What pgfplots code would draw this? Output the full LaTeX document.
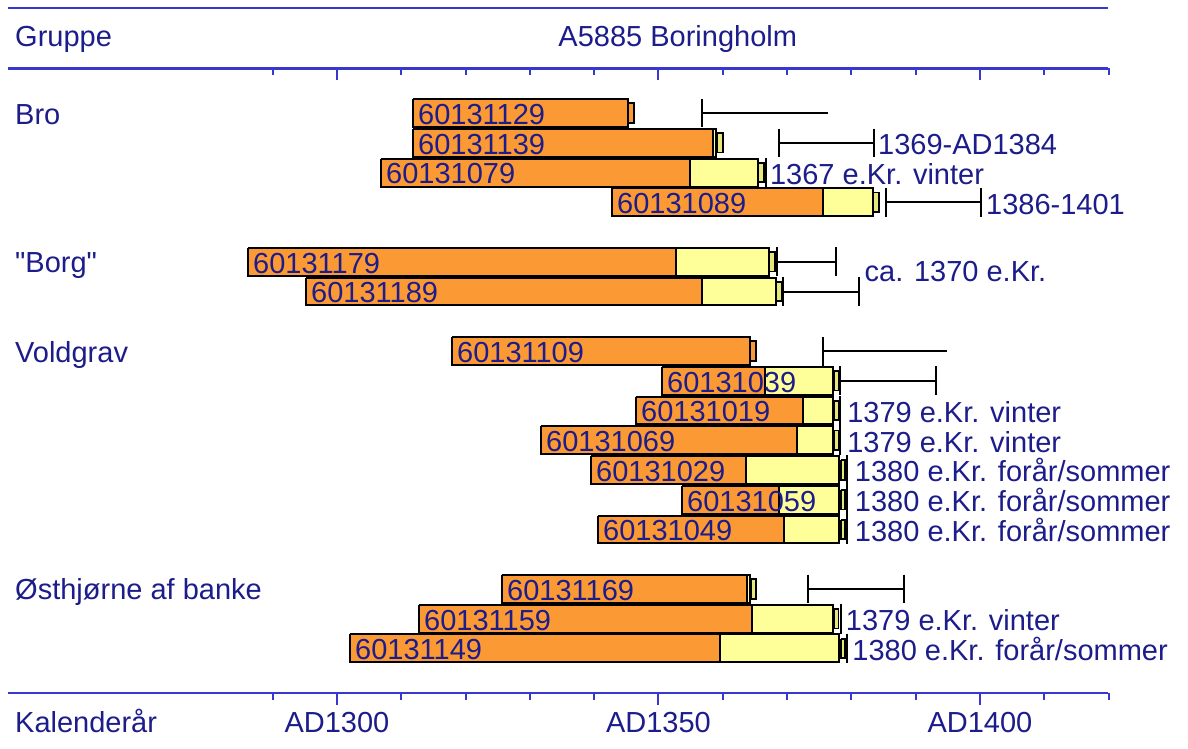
\documentclass[border=0pt]{standalone}
\usepackage{pgfplots}
\pgfplotsset{compat=1.18}
\usepackage{fontspec}
\setmainfont{Liberation Sans}[Ligatures=TeXOff]
\definecolor{txt}{HTML}{1C1C8A}
\definecolor{axl}{HTML}{3838D0}
\definecolor{org}{HTML}{FB9A35}
\definecolor{yel}{HTML}{FFFF99}
\definecolor{stubY}{HTML}{E8E87A}
\newcommand\rect[5]{%
  \pgfmathsetmacro\ya{#1-#4}\pgfmathsetmacro\yb{#1+#4}%
  \addplot[#5] coordinates {(#2,\ya) (#3,\ya) (#3,\yb) (#2,\yb) (#2,\ya)};}
\newcommand\vl[2]{% x, y
  \pgfmathsetmacro\ya{#2-0.5}\pgfmathsetmacro\yb{#2+0.5}%
  \addplot[br] coordinates {(#1,\ya) (#1,\yb)};}
\newcommand\brk[4]{% y, xl, xr, end bar (1/0)
  \pgfmathsetmacro\ya{#1-0.48}\pgfmathsetmacro\yb{#1+0.48}%
  \addplot[br] coordinates {(#2,\ya) (#2,\yb)};
  \addplot[br] coordinates {(#2,#1) (#3,#1)};
  \ifnum#4=1 \addplot[br] coordinates {(#3,\ya) (#3,\yb)};\fi}
\newcommand\blab[3]{% y, x start of bar, text
  \node[lab] at (axis cs:{#2+0.75},{#1+0.38}) {#3};}
\newcommand\rlab[3]{% y, x, text
  \node[lab] at (axis cs:#2,{#1+0.40}) {#3};}
\begin{document}
\begin{tikzpicture}
\pgfplotsset{
  ob/.style={fill=org,draw=black,line width=1pt},
  yb/.style={fill=yel,draw=black,line width=1pt},
  so/.style={fill=org,draw=black,line width=0.9pt},
  sy/.style={fill=stubY,draw=black,line width=0.9pt},
  br/.style={black,line width=1pt},
  ax/.style={axl,line width=1.4pt},
  tk/.style={axl,line width=1pt},
}
\tikzset{lab/.style={anchor=base west,inner sep=0pt,text=txt,font=\fontsize{14.5}{16}\selectfont}}
\begin{axis}[width=594pt,height=374.5pt,scale only axis,hide axis,clip=false,
  xmin=1247.6,xmax=1432.35,ymin=-3.80,ymax=21.38,y dir=reverse]
% axis lines
\addplot[ax] coordinates {(1248.8,-3.53) (1419.9,-3.53)};
\addplot[ax] coordinates {(1248.8,-1.51) (1419.9,-1.51)};
\addplot[ax] coordinates {(1248.8,19.50) (1419.9,19.50)};
\pgfplotsinvokeforeach{1290,1310,1320,1330,1340,1360,1370,1380,1390,1410,1420}{
  \addplot[tk] coordinates {(#1,-1.51) (#1,-1.27)};
  \addplot[tk] coordinates {(#1,19.50) (#1,19.74)};
}
\pgfplotsinvokeforeach{1300,1350,1400}{
  \addplot[tk] coordinates {(#1,-1.51) (#1,-1.12)};
  \addplot[tk] coordinates {(#1,19.50) (#1,19.89)};
}
% header and footer text
\node[lab] at (axis cs:1249.9,-2.22) {Gruppe};
\node[lab,anchor=base] at (axis cs:1353.0,-2.22) {A5885 Boringholm};
\node[lab] at (axis cs:1249.9,20.84) {Kalenderår};
\node[lab,anchor=base] at (axis cs:1300,20.84) {AD1300};
\node[lab,anchor=base] at (axis cs:1350,20.84) {AD1350};
\node[lab,anchor=base] at (axis cs:1400,20.84) {AD1400};
% group labels
\node[lab] at (axis cs:1249.9,0.37) {Bro};
\node[lab] at (axis cs:1249.9,5.37) {"Borg"};
\node[lab] at (axis cs:1249.9,8.37) {Voldgrav};
\node[lab] at (axis cs:1249.9,16.37) {Østhjørne af banke};
% ---- Bro
\rect{0}{1311.82}{1345.26}{0.47}{ob}
\rect{0}{1345.26}{1346.19}{0.33}{so}
\brk{0}{1356.77}{1376.36}{0}
\blab{0}{1311.82}{60131129}
\rect{1}{1311.82}{1358.48}{0.47}{ob}
\rect{1}{1358.48}{1358.94}{0.47}{yb}
\rect{1}{1359.10}{1360.03}{0.33}{sy}
\brk{1}{1368.74}{1383.51}{1}
\blab{1}{1311.82}{60131139}
\rlab{1}{1384.1}{1369-AD1384}
\rect{2}{1306.84}{1354.90}{0.47}{ob}
\rect{2}{1354.90}{1365.47}{0.47}{yb}
\rect{2}{1365.47}{1366.41}{0.33}{sy}
\vl{1366.72}{2}
\blab{2}{1306.84}{60131079}
\rlab{2}{1367.3}{1367 e.Kr. vinter}
\rect{3}{1342.77}{1375.58}{0.47}{ob}
\rect{3}{1375.58}{1383.36}{0.47}{yb}
\rect{3}{1383.36}{1384.29}{0.33}{sy}
\brk{3}{1385.38}{1400.16}{1}
\blab{3}{1342.77}{60131089}
\rlab{3}{1400.9}{1386-1401}
% ---- Borg
\rect{5}{1286.16}{1352.72}{0.47}{ob}
\rect{5}{1352.72}{1367.19}{0.47}{yb}
\rect{5}{1367.19}{1368.12}{0.33}{sy}
\brk{5}{1368.51}{1377.60}{1}
\blab{5}{1286.16}{60131179}
\rect{6}{1295.18}{1356.77}{0.47}{ob}
\rect{6}{1356.77}{1368.27}{0.47}{yb}
\rect{6}{1368.27}{1369.21}{0.33}{sy}
\brk{6}{1369.36}{1381.18}{1}
\blab{6}{1295.18}{60131189}
\node[lab] at (axis cs:1382.0,5.65) {ca. 1370 e.Kr.};
% ---- Voldgrav
\rect{8}{1317.88}{1364.23}{0.47}{ob}
\rect{8}{1364.23}{1365.16}{0.33}{so}
\addplot[br] coordinates {(1375.58,7.53) (1375.58,8.52)};
\addplot[br] coordinates {(1375.58,8) (1394.87,8)};
\blab{8}{1317.88}{60131109}
\rect{9}{1350.54}{1366.56}{0.47}{ob}
\rect{9}{1366.56}{1377.14}{0.47}{yb}
\rect{9}{1377.30}{1378.00}{0.33}{sy}
\brk{9}{1378.23}{1393.16}{1}
\blab{9}{1350.54}{60131039}
\rect{10}{1346.50}{1372.47}{0.47}{ob}
\rect{10}{1372.47}{1377.14}{0.47}{yb}
\rect{10}{1377.30}{1378.00}{0.33}{sy}
\vl{1378.23}{10}
\blab{10}{1346.50}{60131019}
\rlab{10}{1379.3}{1379 e.Kr. vinter}
\rect{11}{1331.73}{1371.54}{0.47}{ob}
\rect{11}{1371.54}{1377.14}{0.47}{yb}
\rect{11}{1377.30}{1378.00}{0.33}{sy}
\vl{1378.23}{11}
\blab{11}{1331.73}{60131069}
\rlab{11}{1379.3}{1379 e.Kr. vinter}
\rect{12}{1339.50}{1363.61}{0.47}{ob}
\rect{12}{1363.61}{1378.07}{0.47}{yb}
\rect{12}{1378.38}{1379.00}{0.33}{sy}
\vl{1379.32}{12}
\blab{12}{1339.50}{60131029}
\rlab{12}{1380.5}{1380 e.Kr. forår/sommer}
\rect{13}{1353.65}{1368.74}{0.47}{ob}
\rect{13}{1368.74}{1378.07}{0.47}{yb}
\rect{13}{1378.38}{1379.00}{0.33}{sy}
\vl{1379.32}{13}
\blab{13}{1353.65}{60131059}
\rlab{13}{1380.5}{1380 e.Kr. forår/sommer}
\rect{14}{1340.59}{1369.52}{0.47}{ob}
\rect{14}{1369.52}{1378.07}{0.47}{yb}
\rect{14}{1378.38}{1379.00}{0.33}{sy}
\vl{1379.32}{14}
\blab{14}{1340.59}{60131049}
\rlab{14}{1380.5}{1380 e.Kr. forår/sommer}
% ---- Østhjørne af banke
\rect{16}{1325.66}{1363.76}{0.47}{ob}
\rect{16}{1363.76}{1364.23}{0.47}{yb}
\rect{16}{1364.39}{1365.16}{0.33}{sy}
\brk{16}{1373.25}{1388.18}{1}
\blab{16}{1325.66}{60131169}
\rect{17}{1312.75}{1364.54}{0.47}{ob}
\rect{17}{1364.54}{1377.14}{0.47}{yb}
\rect{17}{1377.30}{1378.00}{0.33}{sy}
\vl{1378.35}{17}
\blab{17}{1312.75}{60131159}
\rlab{17}{1379.1}{1379 e.Kr. vinter}
\rect{18}{1302.02}{1359.56}{0.47}{ob}
\rect{18}{1359.56}{1378.10}{0.47}{yb}
\rect{18}{1378.38}{1379.00}{0.33}{sy}
\vl{1379.25}{18}
\blab{18}{1302.02}{60131149}
\rlab{18}{1380.1}{1380 e.Kr. forår/sommer}
\end{axis}
\pgfresetboundingbox
\useasboundingbox (0,0) rectangle (594pt,374.5pt);
\end{tikzpicture}
\end{document}
